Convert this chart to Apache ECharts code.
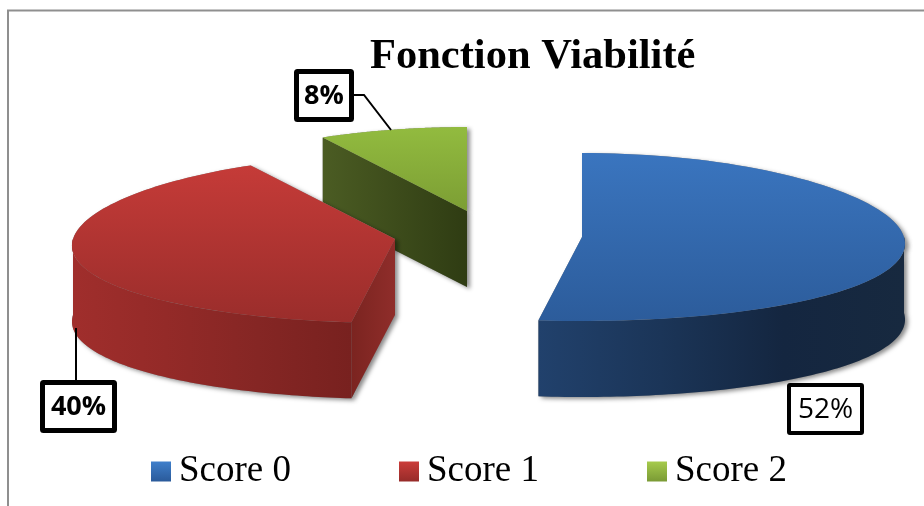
<!DOCTYPE html>
<html><head><meta charset="utf-8">
<style>html,body{margin:0;padding:0;background:#fff}#c{width:924px;height:506px}</style>
<script src="https://cdn.jsdelivr.net/npm/echarts@6/dist/echarts.min.js"></script>
</head><body><div id="c"></div>
<script>
var titleText = 'Fonction Viabilité';
var categories = ['Score 0', 'Score 1', 'Score 2'];
var values = [52, 40, 8];

var G = echarts.graphic.LinearGradient;
function v(c0, c1) { return new G(0, 0, 0, 1, [{offset: 0, color: c0}, {offset: 1, color: c1}]); }
function h(stops) {
  return new G(0, 0, 1, 0, stops.map(function (c, i) { return {offset: i / (stops.length - 1), color: c}; }));
}
var RX = 322, RY = 84, DEPTH = 76, PERSP = 0.08;
var styles = [
  {cx: 582, cy: 237, z: 3, legend: v('#3f7fcb', '#2a5a9a'), top: v('#3a75bf', '#2c5c9b'),
   wall: h(['#21416c', '#1b3558', '#142640', '#17293f']), cut: h(['#1f3d66', '#1f3d66']),
   box: [787, 383, 77, 52], border: 4, weight: 'normal', size: 28, leader: []},
  {cx: 395, cy: 239, z: 3, legend: v('#cb3d3a', '#962b29'), top: v('#c53b38', '#9a2d2b'),
   wall: h(['#a02e2c', '#942a28', '#852624', '#78211f']), cut: h(['#7b2420', '#8f2d2a']),
   box: [40, 380, 77, 53], border: 5, weight: 'bold', size: 27, leader: [[76, 328], [76, 380]]},
  {cx: 467, cy: 211, z: 2, legend: v('#a6cb4c', '#7a9a35'), top: v('#92bb3f', '#7c9e34'),
   wall: h(['#4a5b22', '#303d13']), cut: h(['#4b5c23', '#2f3c13']),
   box: [294, 69, 60, 53], border: 5, weight: 'bold', size: 27, leader: [[354, 95], [364, 95], [391, 130]]}
];

var total = values.reduce(function (a, b) { return a + b; }, 0);
var starts = values.map(function (_, i) {
  return values.slice(0, i).reduce(function (a, b) { return a + b; }, 0);
});

function renderSlice(idx) {
  return function (params, api) {
    var st = styles[idx];
    var a0 = api.value(1) / total * 2 * Math.PI;
    var a1 = (api.value(1) + api.value(0)) / total * 2 * Math.PI;
    function pt(t, d) {
      return [st.cx + RX * Math.sin(t) * (1 - PERSP * Math.cos(t)), st.cy - RY * Math.cos(t) + (d || 0)];
    }
    function arc(from, to, d) {
      var out = [], n = 90;
      for (var i = 0; i <= n; i++) out.push(pt(from + (to - from) * i / n, d));
      return out;
    }
    var apex = [st.cx, st.cy];
    var apexB = [st.cx, st.cy + DEPTH];
    var faces = [];
    function cutFace(a) {
      var p = pt(a), q = pt(a, DEPTH);
      faces.push({pts: [apex, p, q, apexB], fill: st.cut});
    }
    if (Math.sin(a0) < -1e-6) cutFace(a0);
    if (Math.sin(a1) > 1e-6) cutFace(a1);
    var w0 = Math.max(a0, Math.PI / 2), w1 = Math.min(a1, Math.PI * 1.5);
    if (w1 > w0) {
      faces.push({pts: arc(w0, w1, 0).concat(arc(w0, w1, DEPTH).reverse()), fill: st.wall});
    }
    faces.push({pts: [apex].concat(arc(a0, a1, 0)), fill: st.top});

    var children = [];
    faces.forEach(function (f) {
      children.push({type: 'polygon', shape: {points: f.pts}, style: {
        fill: '#888', shadowBlur: 4, shadowOffsetX: 3, shadowOffsetY: 2, shadowColor: 'rgba(0,0,0,0.45)'}});
    });
    faces.forEach(function (f) {
      children.push({type: 'polygon', shape: {points: f.pts}, style: {fill: f.fill, stroke: null}});
    });
    if (st.leader.length) {
      children.push({type: 'polyline', shape: {points: st.leader}, style: {stroke: '#000', lineWidth: 2, fill: null}});
    }
    var b = st.box, bw = st.border;
    children.push({type: 'rect',
      shape: {x: b[0] + bw / 2, y: b[1] + bw / 2, width: b[2] - bw, height: b[3] - bw, r: 1},
      style: {fill: '#fff', stroke: '#000', lineWidth: bw}});
    children.push({type: 'text', style: {
      text: api.value(0) + '%', x: b[0] + b[2] / 2, y: b[1] + b[3] / 2 + 1,
      align: 'center', verticalAlign: 'middle', fill: '#000',
      font: st.weight + ' ' + st.size + 'px "Open Sans"'}});
    return {type: 'group', children: children};
  };
}

var chart = echarts.init(document.getElementById('c'), null, {renderer: 'canvas'});
chart.setOption({
  animation: false,
  backgroundColor: '#fff',
  title: {text: titleText, left: 370, top: 36, padding: 0,
    textStyle: {fontFamily: '"Liberation Serif"', fontWeight: 'bold', fontSize: 42.5, color: '#000'}},
  legend: {
    data: categories, left: 151, top: 453, padding: 0, itemWidth: 20, itemHeight: 20, itemGap: 108,
    icon: 'rect', selectedMode: false,
    textStyle: {fontFamily: '"Liberation Serif"', fontSize: 37, color: '#000', padding: [0, 0, 0, 3]}
  },
  graphic: [{type: 'polyline', silent: true, z: 0,
    shape: {points: [[8, 506], [8, 10.5], [924, 10.5]]},
    style: {stroke: '#8f8f8f', lineWidth: 2, fill: null}}],
  series: categories.map(function (name, i) {
    return {
      type: 'custom', name: name, coordinateSystem: 'none', z: styles[i].z,
      itemStyle: {color: styles[i].legend}, silent: true,
      renderItem: renderSlice(i), data: [[values[i], starts[i]]]
    };
  })
});
</script></body></html>
